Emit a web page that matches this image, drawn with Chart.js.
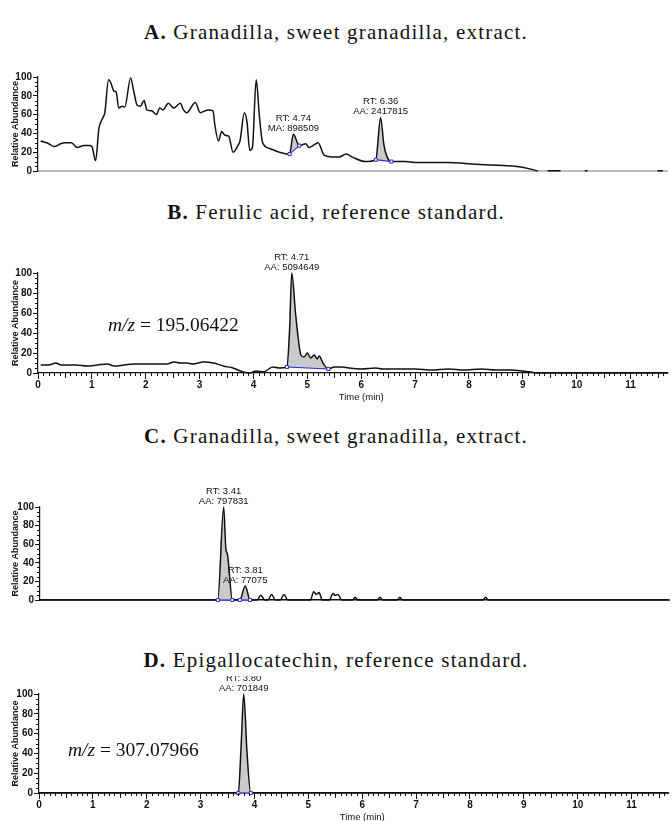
<!DOCTYPE html>
<html>
<head>
<meta charset="utf-8">
<script src="https://cdn.jsdelivr.net/npm/chart.js@4/dist/chart.umd.min.js"></script>
<style>
  body { margin: 0; background: #fff; }
  #page { position: relative; width: 672px; height: 821px; overflow: hidden; }
  #page canvas { position: absolute; left: 0; }
  .title { position: absolute; left: 0; width: 672px; text-align: center; font-family: "Liberation Serif", serif; font-size: 21px; letter-spacing: 1.2px; line-height: 24px; color: #111; }
  .mz { position: absolute; font-family: "Liberation Serif", serif; font-size: 19.5px; line-height: 24px; color: #111; white-space: nowrap; }
</style>
</head>
<body>
<div id="page">
  <div class="title" style="top:20px"><b>A.</b> Granadilla, sweet granadilla, extract.</div>
  <canvas id="chartA" width="672" height="116" style="top:62px"></canvas>

  <div class="title" style="top:200px"><b>B.</b> Ferulic acid, reference standard.</div>
  <canvas id="chartB" width="672" height="158" style="top:248px"></canvas>
  <div class="mz" style="left:108px; top:313px"><i>m/z</i> = 195.06422</div>

  <div class="title" style="top:424px"><b>C.</b> Granadilla, sweet granadilla, extract.</div>
  <canvas id="chartC" width="672" height="129" style="top:478px"></canvas>

  <div class="title" style="top:648px"><b>D.</b> Epigallocatechin, reference standard.</div>
  <canvas id="chartD" width="672" height="145" style="top:676px"></canvas>
  <div class="mz" style="left:68px; top:738px"><i>m/z</i> = 307.07966</div>
</div>

<script>
// retention time (min) and relative abundance (%)
const aTime = [0.05, 0.2, 0.3, 0.42, 0.5, 0.62, 0.73, 0.85, 0.95, 1.0, 1.07, 1.13, 1.19, 1.24, 1.31, 1.35, 1.41, 1.45, 1.5, 1.56,
  1.61, 1.72, 1.78, 1.84, 1.9, 1.97, 2.02, 2.11, 2.2, 2.26, 2.32, 2.42, 2.52, 2.64, 2.7, 2.76, 2.92, 3.01, 3.1, 3.16,
  3.25, 3.28, 3.35, 3.41, 3.47, 3.54, 3.62, 3.71, 3.75, 3.83, 3.88, 3.93, 3.98, 4.05, 4.11, 4.17, 4.3, 4.48, 4.67, 4.74,
  4.85, 4.91, 4.97, 5.03, 5.13, 5.2, 5.31, 5.46, 5.59, 5.72, 5.83, 6.08, 6.27, 6.36, 6.42, 6.48, 6.56, 6.82, 7.0, 7.31,
  7.62, 7.93, 8.2, 8.54, 8.85, 9.15, 9.28, 9.35, 9.46, 9.7, 9.75, 10.15, 10.2, 10.25, 11.5, 11.6];
const aAbund = [32, 29, 26, 29, 30, 30, 25, 27, 27, 26, 11, 45, 55, 62, 97, 94, 85, 84, 67, 69,
  68, 99, 84, 70, 69, 75, 65, 64, 60, 67, 65, 72, 67, 72, 65, 62, 73, 62, 64, 65,
  64, 50, 32, 42, 38, 37, 20, 27, 32, 62, 52, 22, 25, 97, 58, 30, 24, 20, 18, 39,
  27, 28, 29, 25, 28, 30, 17, 15, 15, 18, 15, 10, 12, 57, 28, 15, 10, 10, 9, 9,
  9, 8, 7, 6, 5, 2, 0, null, 0.3, 0.3, null, 0.3, 0.3, null, 0.3, 0.3];

const bTime = [0.05, 0.2, 0.33, 0.43, 0.7, 0.92, 1.1, 1.29, 1.41, 1.6, 1.78, 2.1, 2.39, 2.52, 2.65, 2.76, 2.88, 3.07, 3.26, 3.44,
  3.62, 3.81, 3.93, 4.05, 4.18, 4.36, 4.48, 4.62, 4.67, 4.71, 4.78, 4.83, 4.88, 4.94, 5.0, 5.06, 5.13, 5.18, 5.22, 5.29,
  5.39, 5.5, 5.65, 5.77, 6.0, 6.27, 6.4, 6.7, 7.0, 7.3, 7.62, 7.9, 8.23, 8.5, 8.78, 9.0, 9.15, 9.28, 11.7];
const bAbund = [8, 8, 10, 8, 8, 7, 8, 9, 7, 8, 9, 9, 9, 11, 10, 10, 9, 11, 10, 7,
  5, 1, 0, 2, 1, 6, 5, 6, 43, 100, 60, 35, 18, 16, 20, 15, 18, 14, 17, 10,
  4, 6, 6, 5, 4, 5, 4, 4, 4, 3, 4, 3, 4, 3, 3, 2, 1, 0, 0];

const cTime = [0, 3.3, 3.41, 3.45, 3.48, 3.57, 3.71, 3.81, 3.9, 4.03, 4.1, 4.17, 4.23, 4.3, 4.37, 4.46, 4.53, 4.6, 5.02, 5.08,
  5.13, 5.18, 5.24, 5.37, 5.44, 5.48, 5.53, 5.6, 5.8, 5.85, 5.9, 6.26, 6.31, 6.36, 6.63, 6.68, 6.73, 8.22, 8.27, 8.32, 11.7];
const cAbund = [0, 0, 100, 55, 49, 0, 0, 15, 0, 0, 5, 0, 0, 6, 0, 0, 6, 0, 0, 9,
  6, 8, 0, 0, 7, 5, 6, 0, 0, 3, 0, 0, 3, 0, 0, 3, 0, 0, 3, 0, 0];

const dTime = [0, 3.7, 3.75, 3.8, 3.86, 3.93, 11.7];
const dAbund = [0, 0, 45, 100, 42, 0, 0];

// integrated peaks: start / end of the blue baseline and the label printed above
const aPeaks = [
  { start: 4.67, end: 4.85, rt: 4.74, text: ['RT: 4.74', 'MA: 898509'] },
  { start: 6.27, end: 6.56, rt: 6.36, text: ['RT: 6.36', 'AA: 2417815'] }
];
const bPeaks = [{ start: 4.62, end: 5.39, rt: 4.71, text: ['RT: 4.71', 'AA: 5094649'] }];
const cPeaks = [
  { start: 3.3, end: 3.57, rt: 3.41, text: ['RT: 3.41', 'AA: 797831'] },
  { start: 3.71, end: 3.9, rt: 3.81, text: ['RT: 3.81', 'AA: 77075'] }
];
const dPeaks = [{ start: 3.7, end: 3.93, rt: 3.80, text: ['RT: 3.80', 'AA: 701849'] }];

const yTicks = [0, 20, 40, 60, 80, 100];
const xTicks = [0, 1, 2, 3, 4, 5, 6, 7, 8, 9, 10, 11];

const INK = '#111';
const BLUE = '#2b2bd0';
const AXIS_FONT = { family: 'Liberation Sans', size: 10, weight: 'bold' };
const LABEL_FONT = '9.5px "Liberation Sans Narrow", "Liberation Sans", sans-serif';

// minor ticks, peak labels and the off-centre time title
const chromPlugin = {
  id: 'chrom',
  afterDraw(chart, args, opts) {
    const { ctx, chartArea } = chart;
    const x = chart.scales.x, y = chart.scales.y;
    ctx.save();
    ctx.strokeStyle = INK;
    ctx.lineWidth = 1;
    ctx.beginPath();
    for (let v = 5; v < 100; v += 5) {
      if (v % 20 === 0) continue;
      const py = Math.round(y.getPixelForValue(v)) + 0.5;
      ctx.moveTo(chartArea.left - 3, py);
      ctx.lineTo(chartArea.left, py);
    }
    if (opts.xMinor) {
      for (let i = 1; i / 10 <= x.max; i++) {
        if (i % 10 === 0) continue;
        const px = Math.round(x.getPixelForValue(i / 10)) + 0.5;
        const len = i % 5 === 0 ? 5 : 3;
        ctx.moveTo(px, chartArea.bottom);
        ctx.lineTo(px, chartArea.bottom + len);
      }
    }
    ctx.stroke();

    ctx.fillStyle = INK;
    ctx.font = LABEL_FONT;
    ctx.textAlign = 'center';
    ctx.textBaseline = 'middle';
    (opts.peaks || []).forEach(p => {
      const top = Math.max(...opts.trace.filter(d => Math.abs(d.x - p.rt) < 0.06 && d.y !== null).map(d => d.y));
      const px = x.getPixelForValue(p.rt);
      const py = y.getPixelForValue(top);
      ctx.fillText(p.text[0], px, py - 16);
      ctx.fillText(p.text[1], px, py - 6);
    });

    if (opts.timeTitle) {
      ctx.fillText('Time (min)', x.getPixelForValue(6), chartArea.bottom + 24);
    }
    ctx.restore();
  }
};

function makePanel(id, time, abund, peaks, cfg) {
  const trace = time.map((t, i) => ({ x: t, y: abund[i] }));
  const datasets = [{
    data: trace,
    borderColor: INK,
    borderWidth: 1.5,
    pointRadius: 0,
    cubicInterpolationMode: 'monotone',
    spanGaps: false,
    fill: false,
    clip: 3,
    order: 0
  }];
  peaks.forEach(p => {
    const part = trace.filter(d => d.x >= p.start && d.x <= p.end);
    const ends = [part[0], part[part.length - 1]];
    datasets.push({
      data: part,
      borderWidth: 0,
      pointRadius: 0,
      cubicInterpolationMode: 'monotone',
      backgroundColor: '#cacaca',
      fill: { target: datasets.length + 1 },
      order: 3
    });
    datasets.push({
      data: ends,
      borderColor: BLUE,
      borderWidth: 1.2,
      pointStyle: 'rect',
      pointRadius: 2.2,
      pointBorderColor: BLUE,
      pointBorderWidth: 1,
      pointBackgroundColor: '#fff',
      fill: false,
      clip: 4,
      order: -1
    });
  });

  return new Chart(document.getElementById(id), {
    type: 'line',
    data: { datasets },
    plugins: [chromPlugin],
    options: {
      responsive: false,
      animation: false,
      events: [],
      layout: { padding: { top: cfg.padTop, left: 0, right: 0, bottom: 0 } },
      plugins: {
        legend: { display: false },
        tooltip: { enabled: false },
        chrom: { xMinor: cfg.xLabels, peaks, trace, timeTitle: cfg.xLabels }
      },
      scales: {
        x: {
          type: 'linear',
          min: 0,
          max: (672 - cfg.left) / 54.3,
          afterFit: s => { s.height = cfg.xHeight; },
          afterBuildTicks: s => { s.ticks = xTicks.map(v => ({ value: v })); },
          ticks: {
            display: cfg.xLabels,
            autoSkip: false,
            maxRotation: 0,
            padding: 0,
            color: INK,
            font: AXIS_FONT
          },
          grid: { display: cfg.xLabels, drawOnChartArea: false, tickLength: 6, color: INK },
          border: { color: cfg.axisColor, width: cfg.axisWidth }
        },
        y: {
          min: 0,
          max: 100,
          afterFit: s => { s.width = cfg.left; },
          afterBuildTicks: s => { s.ticks = yTicks.map(v => ({ value: v })); },
          ticks: { padding: 1, color: INK, font: AXIS_FONT },
          grid: { drawOnChartArea: false, tickLength: 5, color: INK },
          border: { color: INK, width: 1.2 },
          title: {
            display: true,
            text: 'Relative Abundance',
            color: INK,
            font: { family: 'Liberation Sans', size: 9, weight: 'bold' },
            padding: { top: 10, bottom: 0 }
          }
        }
      }
    }
  });
}

makePanel('chartA', aTime, aAbund, aPeaks, { left: 38, padTop: 15, xHeight: 1, xLabels: false, axisColor: '#bdbdbd', axisWidth: 2 });
makePanel('chartB', bTime, bAbund, bPeaks, { left: 38, padTop: 25, xHeight: 33, xLabels: true, axisColor: INK, axisWidth: 1.2 });
makePanel('chartC', cTime, cAbund, cPeaks, { left: 40, padTop: 29, xHeight: 2, xLabels: false, axisColor: INK, axisWidth: 1.5 });
makePanel('chartD', dTime, dAbund, dPeaks, { left: 39, padTop: 18, xHeight: 28, xLabels: true, axisColor: INK, axisWidth: 1.2 });
</script>
</body>
</html>
